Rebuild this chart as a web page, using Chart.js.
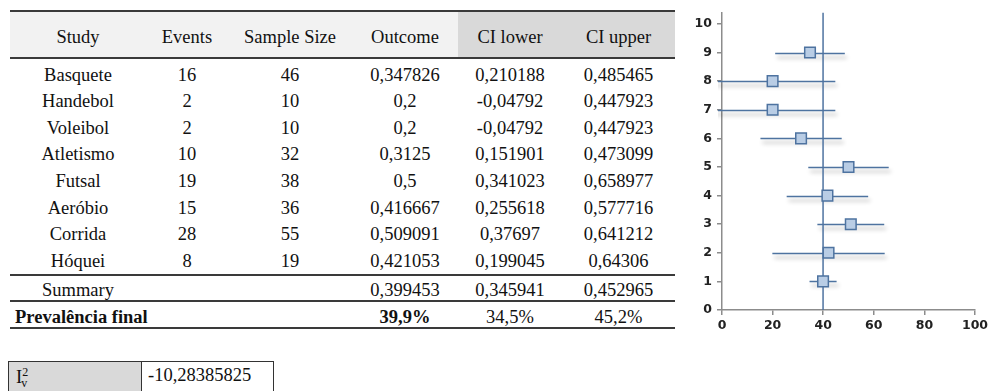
<!DOCTYPE html>
<html>
<head>
<meta charset="utf-8">
<script src="https://cdn.jsdelivr.net/npm/chart.js@4.4.1/dist/chart.umd.min.js"></script>
<style>
  html, body { margin: 0; padding: 0; background: #fff; }
  body { width: 1000px; height: 391px; position: relative; overflow: hidden; }
  #tbl {
    position: absolute; left: 10px; top: 10px; width: 665px;
    font-family: "Liberation Serif", "Times New Roman", serif; font-size: 18.5px; color: #111;
  }
  .row { display: flex; box-sizing: border-box; }
  .row > div { flex: none; text-align: center; white-space: nowrap; box-sizing: border-box; position: relative; }
  .head { border-top: 2px solid #3a3a3a; border-bottom: 2px solid #3a3a3a; height: 49px; }
  .head > div { background: #f2f2f2; line-height: 45px; padding-top: 3px; }
  .head > div.dk { background: #d9d9d9; }
  .data { height: 26.57px; line-height: 26.57px; }
  .data.first { height: 29.27px; padding-top: 2.7px; }
  .data.last { height: 28.57px; border-bottom: 2px solid #3a3a3a; }
  .sum { height: 26px; line-height: 24px; border-bottom: 2px solid #3a3a3a; }
  .sum > div { top: 2px; }
  .fin { height: 27px; line-height: 25px; border-bottom: 2px solid #3a3a3a; }
  .fin > div { top: 3px; }
  .fin > div.left { text-align: left; padding-left: 5px; font-weight: bold; }
  .b { font-weight: bold; }
  #i2 {
    position: absolute; left: 8px; top: 361px; width: 266px; height: 40px;
    border: 1.5px solid #333; box-sizing: border-box; display: flex;
    font-family: "Liberation Serif", "Times New Roman", serif; font-size: 18.5px; color: #111;
  }
  #i2 .k { width: 133px; background: #d9d9d9; border-right: 1.5px solid #333; padding: 3px 0 0 7px; box-sizing: border-box; }
  #i2 .v { padding: 3px 0 0 6px; }
  #i2 sup { font-size: 12px; vertical-align: 7px; }
  #i2 sub { font-size: 12px; vertical-align: -4px; margin-left: -7px; }
  #plot { position: absolute; left: 690px; top: 0; width: 310px; height: 340px; }
</style>
</head>
<body>
<div id="tbl"></div>
<div id="i2"><div class="k" id="i2k"></div><div class="v" id="i2v"></div></div>
<div id="plot"><canvas id="c"></canvas></div>
<script>
// Table content
const headers = ['Study', 'Events', 'Sample Size', 'Outcome', 'CI lower', 'CI upper'];
const studies = ['Basquete', 'Handebol', 'Voleibol', 'Atletismo', 'Futsal', 'Aeróbio', 'Corrida', 'Hóquei'];
const events = [16, 2, 2, 10, 19, 15, 28, 8];
const sampleSize = [46, 10, 10, 32, 38, 36, 55, 19];
const outcome = ['0,347826', '0,2', '0,2', '0,3125', '0,5', '0,416667', '0,509091', '0,421053'];
const ciLower = ['0,210188', '-0,04792', '-0,04792', '0,151901', '0,341023', '0,255618', '0,37697', '0,199045'];
const ciUpper = ['0,485465', '0,447923', '0,447923', '0,473099', '0,658977', '0,577716', '0,641212', '0,64306'];
const summaryLabel = 'Summary';
const summaryRow = ['0,399453', '0,345941', '0,452965'];
const finalLabel = 'Prevalência final';
const finalRow = ['39,9%', '34,5%', '45,2%'];
const i2Value = '-10,28385825';

// Column widths of the table
const colWidths = [136, 82, 124, 106, 104, 113];

// Plot axes
const xTicks = [0, 20, 40, 60, 80, 100];
const yTicks = [0, 1, 2, 3, 4, 5, 6, 7, 8, 9, 10];

// ---- build the table ----
const tbl = document.getElementById('tbl');
function addRow(cls, cells) {
  const r = document.createElement('div');
  r.className = 'row ' + cls;
  cells.forEach(c => {
    const d = document.createElement('div');
    d.textContent = c.text;
    d.style.width = c.width + 'px';
    if (c.cls) d.className = c.cls;
    r.appendChild(d);
  });
  tbl.appendChild(r);
}
addRow('head', headers.map((h, i) => ({ text: h, width: colWidths[i], cls: i >= 4 ? 'dk' : '' })));
studies.forEach((s, i) => {
  const cls = 'data' + (i === 0 ? ' first' : '') + (i === studies.length - 1 ? ' last' : '');
  addRow(cls, [s, events[i], sampleSize[i], outcome[i], ciLower[i], ciUpper[i]]
    .map((v, j) => ({ text: v, width: colWidths[j] })));
});
addRow('sum', [summaryLabel, '', ''].concat(summaryRow).map((v, j) => ({ text: v, width: colWidths[j] })));
addRow('fin', [{ text: finalLabel, width: colWidths[0] + colWidths[1] + colWidths[2], cls: 'left' }]
  .concat(finalRow.map((v, j) => ({ text: v, width: colWidths[3 + j], cls: j === 0 ? 'b' : '' }))));

document.getElementById('i2k').innerHTML = 'I<sup>2</sup><sub>v</sub>';
document.getElementById('i2v').textContent = i2Value;

// ---- forest plot ----
const num = s => parseFloat(s.replace(',', '.')) * 100;
const nRows = studies.length + 1;
const pts = studies.map((s, i) => ({
  x: num(outcome[i]), y: nRows - i, lo: num(ciLower[i]), hi: num(ciUpper[i])
}));
pts.push({ x: num(summaryRow[0]), y: 1, lo: num(summaryRow[1]), hi: num(summaryRow[2]) });

const lineColor = '#4e73a0';
const axisColor = '#8c8c8c';
const yMax = 10.4;

const errorBars = {
  id: 'errorBars',
  beforeDatasetsDraw(chart) {
    const { ctx, chartArea, scales } = chart;
    const xs = scales.x, ys = scales.y;
    ctx.save();
    ctx.beginPath();
    ctx.rect(chartArea.left - 4, chartArea.top, chartArea.right - chartArea.left + 8, chartArea.bottom - chartArea.top);
    ctx.clip();
    ctx.strokeStyle = lineColor;
    ctx.lineWidth = 1.5;
    ctx.shadowColor = 'rgba(0,0,0,0.32)';
    ctx.shadowBlur = 4;
    ctx.shadowOffsetX = 2;
    ctx.shadowOffsetY = 4;
    pts.forEach(p => {
      const y = Math.round(ys.getPixelForValue(p.y)) + 0.5;
      ctx.beginPath();
      ctx.moveTo(xs.getPixelForValue(p.lo), y);
      ctx.lineTo(xs.getPixelForValue(p.hi), y);
      ctx.stroke();
    });
    ctx.restore();
  }
};

const tickFont = { family: 'DejaVu Sans', size: 12.5, weight: 'bold' };

new Chart(document.getElementById('c'), {
  type: 'scatter',
  data: {
    datasets: [
      {
        type: 'line',
        data: [{ x: pts[pts.length - 1].x, y: 0 }, { x: pts[pts.length - 1].x, y: yMax }],
        borderColor: lineColor, borderWidth: 1.5, pointRadius: 0, fill: false, order: 2
      },
      {
        data: pts.map(p => ({ x: p.x, y: p.y })),
        pointStyle: 'rect', pointRadius: 7.5, pointHoverRadius: 7.5,
        backgroundColor: '#b9cde5', borderColor: lineColor, borderWidth: 1.5, order: 1
      }
    ]
  },
  options: {
    responsive: true, maintainAspectRatio: false, animation: false,
    layout: { padding: { top: 12.5, right: 25, left: 0, bottom: 0 } },
    plugins: { legend: { display: false }, tooltip: { enabled: false } },
    scales: {
      x: {
        type: 'linear', min: 0, max: 100,
        afterBuildTicks: s => { s.ticks = xTicks.map(v => ({ value: v })); },
        afterFit: s => { s.height = 30; },
        grid: { drawOnChartArea: false, color: axisColor, tickLength: 5, lineWidth: 1.5 },
        border: { color: axisColor, width: 1.5 },
        ticks: { color: '#222', padding: 3, font: tickFont }
      },
      y: {
        type: 'linear', min: 0, max: yMax,
        afterBuildTicks: s => { s.ticks = yTicks.map(v => ({ value: v })); },
        afterFit: s => { s.width = 32; },
        grid: { drawOnChartArea: false, color: axisColor, tickLength: 5, lineWidth: 1.5 },
        border: { color: axisColor, width: 1.5 },
        ticks: { color: '#222', padding: 5, font: tickFont }
      }
    }
  },
  plugins: [errorBars]
});
</script>
</body>
</html>
